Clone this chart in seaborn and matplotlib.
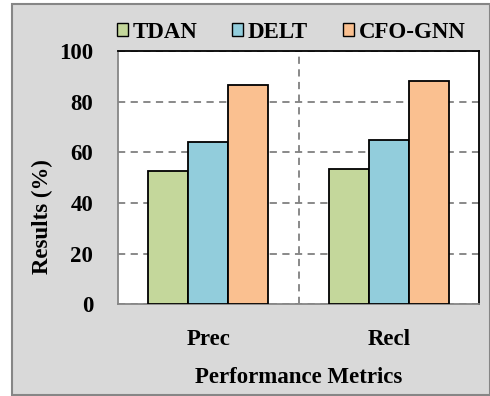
import pandas as pd
import numpy as np
import seaborn as sns
import matplotlib.pyplot as plt
from matplotlib.patches import Rectangle

metrics = ["Prec", "Recl"]
methods = ["TDAN", "DELT", "CFO-GNN"]
tdan = [52.7, 53.6]
delt = [64.2, 64.8]
cfo_gnn = [86.8, 88.4]
colors = ["#C4D79B", "#92CDDC", "#FAC090"]

df = pd.DataFrame({
    "Metric": metrics * 3,
    "Method": [m for m in methods for _ in metrics],
    "Value": tdan + delt + cfo_gnn,
})

sns.set_style("white")
plt.rcParams["font.family"] = ["Liberation Serif", "DejaVu Serif"]
plt.rcParams["font.weight"] = "bold"
plt.rcParams["text.color"] = "black"
plt.rcParams["axes.labelcolor"] = "black"
FS = 16.5

fig = plt.figure(figsize=(4.9, 3.96), dpi=100)
fig.patch.set_facecolor("white")
# gray chart-area frame
fig.patches.append(Rectangle((11.5 / 490, 1 - 394.5 / 396), (489.5 - 11.5) / 490, (394.5 - 3.5) / 396,
                             transform=fig.transFigure, facecolor="#D9D9D9",
                             edgecolor="#868686", linewidth=1.5, zorder=-5))

ax = fig.add_axes([118 / 490, 1 - 304 / 396, 361 / 490, 252.5 / 396])
ax.set_facecolor("white")

sns.barplot(data=df, x="Metric", y="Value", hue="Method", palette=colors, saturation=1,
            width=0.665, edgecolor="black", linewidth=1.3, ax=ax, legend=True, zorder=3)

ax.set_ylim(0, 100)
ax.set_yticks([0, 20, 40, 60, 80, 100])
ax.set_xlim(-0.5, 1.5)
ax.set_xticks([0.5], minor=True)

ax.grid(True, axis="y", which="major", color="#808080", linestyle=(0, (4, 3)), linewidth=1.3, zorder=1)
ax.grid(True, axis="x", which="minor", color="#808080", linestyle=(0, (4, 3)), linewidth=1.3, zorder=1)
ax.grid(False, axis="x", which="major")

for side in ["top", "right"]:
    ax.spines[side].set_color("black")
    ax.spines[side].set_linewidth(1.3)
for side in ["left", "bottom"]:
    ax.spines[side].set_color("#868686")
    ax.spines[side].set_linewidth(1.3)

ax.tick_params(axis="y", which="major", length=6, width=1.3, color="#868686", labelcolor="black",
               pad=12, labelsize=FS)
ax.tick_params(axis="x", which="both", length=0, pad=18, labelcolor="black", labelsize=FS)
for lab in ax.get_xticklabels() + ax.get_yticklabels():
    lab.set_fontweight("bold")

ax.set_xlabel("Performance Metrics", fontsize=FS, fontweight="bold", labelpad=12)
ax.set_ylabel("Results (%)", fontsize=FS, fontweight="bold")
ax.yaxis.set_label_coords(-0.18, 0.346)

handles, labels = ax.get_legend_handles_labels()
for h in handles:
    h.set_linewidth(1.0)
ax.legend_.remove()
fig.legend(handles, labels, loc="center", bbox_to_anchor=(0.594, 0.918), ncol=3, frameon=False,
           handlelength=0.5, handleheight=0.5, handletextpad=0.2, columnspacing=1.5,
           prop={"size": FS, "weight": "bold"})

plt.savefig("out.png", dpi=100)
plt.close()
